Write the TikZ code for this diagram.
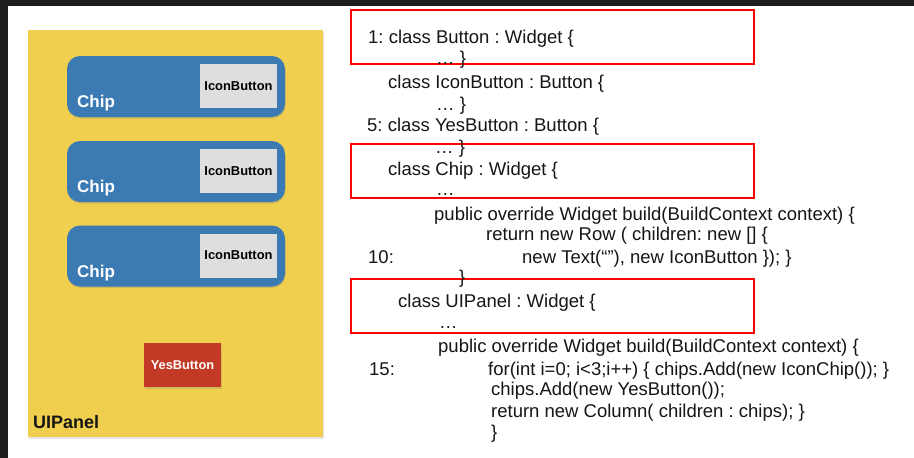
\documentclass[tikz,border=0pt]{standalone}
\usepackage{fontspec}
\setmainfont{Liberation Sans}
\usetikzlibrary{shadows}
\definecolor{panelyellow}{HTML}{F0CF4E}
\definecolor{chipblue}{HTML}{3B7AB2}
\definecolor{btngrey}{HTML}{DEDEDE}
\definecolor{yesred}{HTML}{C23A26}
\definecolor{darkband}{HTML}{1E1E1E}
\definecolor{codeblack}{HTML}{161616}
\frenchspacing
\begin{document}
\begin{tikzpicture}[x=1pt, y=-1pt,
  codeline/.style={anchor=base west, inner sep=0pt, font=\fontsize{18.5}{22}\selectfont, text=codeblack},
  chipbox/.style={fill=chipblue, rounded corners=13pt, minimum width=218pt, minimum height=61pt, inner sep=0pt,
    drop shadow={opacity=0.3, shadow xshift=0.5pt, shadow yshift=-1.5pt}},
  iconbox/.style={fill=btngrey, minimum width=77pt, minimum height=44pt, inner sep=0pt,
    font=\bfseries\fontsize{12.9}{14}\selectfont, text=black},
  chiplabel/.style={anchor=base west, inner sep=0pt, font=\bfseries\fontsize{17}{18}\selectfont, text=white},
  yesbox/.style={fill=yesred, minimum width=77pt, minimum height=44pt, inner sep=0pt,
    font=\bfseries\fontsize{12.8}{14}\selectfont, text=white,
    drop shadow={opacity=0.25, shadow xshift=0.5pt, shadow yshift=-1.5pt}},
  redframe/.style={draw=red, line width=2pt}
]
\useasboundingbox (0,0) rectangle (914,458);
\fill[white] (0,0) rectangle (914,458);
\fill[darkband] (0,0) rectangle (914,6);
\fill[darkband] (0,0) rectangle (8,458);

% left panel
\node[fill=panelyellow, minimum width=295pt, minimum height=407pt, inner sep=0pt,
  drop shadow={opacity=0.2, shadow xshift=0.5pt, shadow yshift=-1.5pt}] (panel) at (175.5,233.5) {};

\node[chipbox] (chip1) at (176,86.5) {};
\node[chipbox] (chip2) at (176,171.5) {};
\node[chipbox] (chip3) at (176,256) {};

\node[iconbox] (icon1) at (238.5,86) {IconButton};
\node[iconbox] (icon2) at (238.5,171) {IconButton};
\node[iconbox] (icon3) at (238.5,255.5) {IconButton};

\node[chiplabel] (chiplab1) at (77,107) {Chip};
\node[chiplabel] (chiplab2) at (77,192) {Chip};
\node[chiplabel] (chiplab3) at (77,277) {Chip};

\node[yesbox] (yes) at (182.5,365) {YesButton};

\node[anchor=base west, inner sep=0pt, font=\bfseries\fontsize{18}{20}\selectfont, text=codeblack] (uilab) at (33,428) {UIPanel};

% red frames
\draw[redframe] (351,10) rectangle (754,64);
\draw[redframe] (351,144) rectangle (754,198);
\draw[redframe] (351,279) rectangle (754,333);

% code
\node[codeline] (l1) at (368,43) {1: class Button : Widget \{};
\node[codeline] (l2) at (436,64) {… \}};
\node[codeline] (l3) at (388,88) {class IconButton : Button \{};
\node[codeline] (l4) at (436,110) {… \}};
\node[codeline] (l5) at (367,131) {5: class YesButton : Button \{};
\node[codeline] (l6) at (435,153) {… \}};
\node[codeline] (l7) at (388,175) {class Chip : Widget \{};
\node[codeline] (l8) at (436,195) {…};
\node[codeline] (l9) at (434,220) {public override Widget build(BuildContext context) \{};
\node[codeline] (l10) at (486,240) {return new Row ( children: new [] \{};
\node[codeline] (l11a) at (368,263) {10:};
\node[codeline] (l11b) at (522,263) {new Text(“”), new IconButton \}); \}};
\node[codeline] (l12) at (459,283) {\}};
\node[codeline] (l13) at (398,307) {class UIPanel : Widget \{};
\node[codeline] (l14) at (439,328) {…};
\node[codeline] (l15) at (438,352) {public override Widget build(BuildContext context) \{};
\node[codeline] (l16a) at (369,375) {15:};
\node[codeline] (l16b) at (488,375) {for(int i=0; i<3;i++) \{ chips.Add(new IconChip()); \}};
\node[codeline] (l17) at (491,395) {chips.Add(new YesButton());};
\node[codeline] (l18) at (491,417) {return new Column( children : chips); \}};
\node[codeline] (l19) at (491,438) {\}};
\end{tikzpicture}
\end{document}
